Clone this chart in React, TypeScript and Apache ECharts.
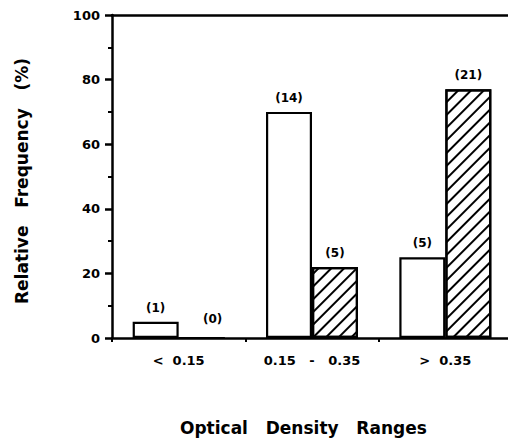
import React, { useEffect, useRef } from "react";
import * as echarts from "echarts";

const NB = "\u00A0";
const categories = [`<${NB}${NB}0.15`, `0.15${NB}${NB}${NB}-${NB}${NB}${NB}0.35`, `>${NB}${NB}0.35`];
const openValues = [5, 70, 25];
const openCounts = ["(1)", "(14)", "(5)"];
const hatchedValues = [0, 22, 77];
const hatchedCounts = ["(0)", "(5)", "(21)"];
const yTicks = { min: 0, max: 100, interval: 20 };
const xTitle = `Optical${NB}${NB}${NB}Density${NB}${NB}${NB}Ranges`;
const yTitle = `Relative${NB}${NB}${NB}Frequency${NB}${NB}${NB}(%)`;

const FONT = "DejaVu Sans";

export default function App() {
  const ref = useRef<HTMLDivElement>(null);
  useEffect(() => {
    if (!ref.current) return;
    const chart = echarts.init(ref.current, undefined, { renderer: "svg" });
    const labelStyle = {
      show: true,
      position: "top" as const,
      distance: 8,
      fontFamily: FONT,
      fontWeight: "bold" as const,
      fontSize: 12,
      lineHeight: 12,
      color: "#000",
    };
    chart.setOption({
      animation: false,
      backgroundColor: "#fff",
      grid: { left: 112, right: -4, top: 15, bottom: 104, outerBoundsMode: "none" },
      xAxis: [
        {
          type: "category",
          data: categories,
          axisLine: { lineStyle: { color: "#000", width: 2.5 } },
          axisTick: { show: true, length: 4, lineStyle: { color: "#000", width: 2 } },
          axisLabel: {
            margin: 16,
            fontFamily: FONT,
            fontWeight: "bold",
            fontSize: 13,
            color: "#000",
          },
          splitLine: { show: false },
        },
        {
          type: "category",
          position: "top",
          data: categories,
          axisLine: { show: true, lineStyle: { color: "#000", width: 2.5 } },
          axisTick: { show: false },
          axisLabel: { show: false },
        },
      ],
      yAxis: {
        type: "value",
        min: yTicks.min,
        max: yTicks.max,
        interval: yTicks.interval,
        axisLine: { show: true, lineStyle: { color: "#000", width: 2.5 } },
        axisTick: { show: true, length: 7, lineStyle: { color: "#000", width: 2.5 } },
        minorTick: { show: true, splitNumber: 2, length: 4, lineStyle: { color: "#000", width: 2 } },
        splitLine: { show: false },
        axisLabel: {
          margin: 12,
          fontFamily: FONT,
          fontWeight: "bold",
          fontSize: 13,
          color: "#000",
        },
      },
      graphic: [
        {
          type: "text",
          x: 180,
          y: 428,
          style: {
            text: xTitle,
            fontFamily: FONT,
            fontWeight: "bold",
            fontSize: 17,
            fill: "#000",
            textAlign: "left",
            textVerticalAlign: "middle",
          },
        },
        {
          type: "text",
          x: 22,
          y: 181,
          rotation: Math.PI / 2,
          style: {
            text: yTitle,
            fontFamily: FONT,
            fontWeight: "bold",
            fontSize: 17,
            fill: "#000",
            textAlign: "center",
            textVerticalAlign: "middle",
          },
        },
      ],
      series: [
        {
          type: "bar",
          name: "open",
          data: openValues,
          barWidth: 46,
          barGap: "0%",
          itemStyle: { color: "#fff", borderColor: "#000", borderWidth: 2.2 },
          label: {
            ...labelStyle,
            formatter: (p: any) => openCounts[p.dataIndex],
          },
        },
        {
          type: "bar",
          name: "hatched",
          data: hatchedValues.map((v, i) =>
            i === 0 ? { value: v, label: { offset: [11, -4] } } : v
          ),
          barWidth: 46,
          barGap: "0%",
          itemStyle: {
            color: "#fff",
            borderColor: "#000",
            borderWidth: 2.2,
            decal: {
              symbol: "rect",
              symbolSize: 1,
              dashArrayX: [1, 0],
              dashArrayY: [2, 7],
              rotation: -Math.PI / 4,
              color: "#000",
            },
          },
          label: {
            ...labelStyle,
            formatter: (p: any) => hatchedCounts[p.dataIndex],
          },
        },
      ],
    });
    return () => chart.dispose();
  }, []);
  return (
    <div
      ref={ref}
      style={{ position: "absolute", left: 0, top: 0, width: 508, height: 442 }}
    />
  );
}
